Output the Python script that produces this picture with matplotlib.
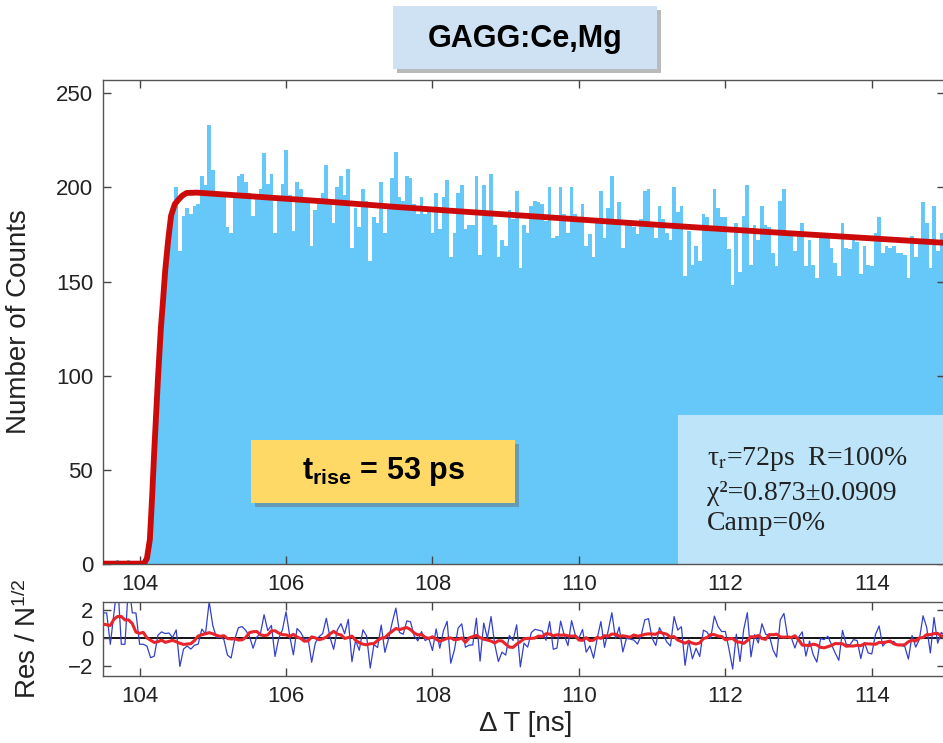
"""
Rise-time fit for GAGG:Ce,Mg.
Histogram of the time differences with the fitted curve on top and the
normalised residuals (Res / sqrt(N)) in a strip underneath.
Writes out.png
"""

import numpy as np
import matplotlib.pyplot as plt
import matplotlib.patheffects as pe
from matplotlib.patches import Rectangle, FancyBboxPatch

plt.rcParams["font.family"] = ["Liberation Sans", "DejaVu Sans"]
plt.rcParams["mathtext.fontset"] = "custom"
plt.rcParams["mathtext.rm"] = "Liberation Sans"
plt.rcParams["mathtext.bf"] = "Liberation Sans:bold"
plt.rcParams["mathtext.it"] = "Liberation Sans:italic"


# ──────────────────────────────────────────────
#  Data
# ──────────────────────────────────────────────
BIN_START = 103.475   # ns, left edge of the first bin
BIN_WIDTH = 0.05      # ns

# counts per bin: flat background, the rise, then the slow decay
background_counts = [1, 1, 0, 1, 2, 0, 0, 2, 1, 1, 0]
rise_counts = [0, 2, 14, 50, 100, 135, 160, 180, 188]
decay_counts = [
    200, 166, 185, 189, 186, 190, 191, 206, 201, 233, 209, 197, 197, 195, 179,
    176, 195, 206, 207, 203, 197, 185, 196, 199, 218, 202, 207, 176, 194, 202,
    220, 196, 177, 203, 199, 192, 193, 169, 188, 194, 197, 212, 193, 181, 200,
    206, 196, 210, 168,
    189, 179, 199, 193, 161, 184, 181, 203, 176, 189, 205, 219, 195, 193, 206,
    205, 191, 186, 195, 186, 188, 176, 197, 178, 195, 204, 163, 176, 197, 201,
    178, 180, 180, 206, 164, 201, 186, 207, 180, 163, 172, 169, 188, 183, 198,
    157, 180, 176, 190, 193, 192, 191, 182,
    200, 173, 174, 200, 186, 176, 200, 186, 183, 191, 169, 175, 163, 182, 198,
    173, 189, 206, 181, 192, 168, 181, 180, 179, 175, 183, 198, 199, 180, 173,
    190, 183, 176, 172, 200, 187, 190, 153, 177, 159, 169, 161, 186, 184, 178,
    199, 189, 184, 184, 167, 148, 181, 155, 185,
    201, 159, 180, 172, 190, 180, 179, 165, 158, 193, 199, 177, 176, 166, 176,
    181, 158, 172, 159, 152, 174, 173, 176, 168, 160, 153, 181, 168, 167, 172,
    171, 154, 169, 159, 158, 176, 184, 165, 169, 168, 169, 165, 165, 164, 152,
    174, 163, 170, 192, 181, 157, 190, 166, 176, 172, 171,
]
counts = background_counts + rise_counts + decay_counts

# fitted curve (time in ns, counts)
fit_t = [103.40, 104.06, 104.10, 104.14, 104.17, 104.20, 104.25, 104.29,
         104.32, 104.35, 104.39, 104.43, 104.48, 104.52, 104.58, 104.64,
         104.78, 105.50, 106.50, 107.50, 108.50, 109.50, 110.50, 111.50,
         112.50, 113.50, 114.50, 115.10]
fit_y = [0.2, 0.2, 3, 13, 35, 60, 98, 125,
         140, 156, 172, 185, 191, 193, 195.5, 197,
         197.2, 195.3, 192.6, 189.6, 186.9, 184.3, 181.6, 179.0,
         176.5, 174.1, 171.7, 170.3]

SMOOTH_BINS = 9   # running-mean window for the red residual trace

fit_lines = [r"τ$_{\rm r}$=72ps  R=100%", "χ²=0.873±0.0909", "Camp=0%"]

BAR_COLOR = "#66C7F9"
BOX_COLOR = "#BDE4F9"
FIT_RED = "#CC0A0A"


# ──────────────────────────────────────────────
#  Residuals
# ──────────────────────────────────────────────
edges = BIN_START + BIN_WIDTH * np.arange(len(counts) + 1)
centers = edges[:-1] + BIN_WIDTH / 2
fit_at_bins = np.interp(centers, fit_t, fit_y)
residuals = (np.array(counts) - fit_at_bins) / np.sqrt(fit_at_bins)
smooth = np.convolve(residuals, np.ones(SMOOTH_BINS) / SMOOTH_BINS, mode="same")


# ──────────────────────────────────────────────
#  Layout helpers (pixel boxes on a 943x743 canvas)
# ──────────────────────────────────────────────
W, H = 943, 743


def px_rect(left, top, right, bottom):
    return [left / W, 1 - bottom / H, (right - left) / W, (bottom - top) / H]


fig = plt.figure(figsize=(W / 100, H / 100), dpi=100)
ax = fig.add_axes(px_rect(103, 80, 945, 564))
axr = fig.add_axes(px_rect(103, 602, 945, 676))

# ──────────────────────────────────────────────
#  Top: histogram + fit
# ──────────────────────────────────────────────
ax.stairs(counts, edges, fill=True, color=BAR_COLOR, linewidth=0, zorder=1)
ax.plot(fit_t, fit_y, color=FIT_RED, linewidth=4.2, solid_capstyle="butt",
        zorder=3)
ax.add_patch(Rectangle((0.683, 0.0), 0.33, 0.308, transform=ax.transAxes,
                       facecolor=BOX_COLOR, edgecolor="none", zorder=2))
ax.set_ylim(0, 257)
ax.set_yticks([0, 50, 100, 150, 200, 250])
ax.set_ylabel("Number of Counts", fontsize=20, color="#222222")
ax.yaxis.set_label_coords(-0.084, 0.5)

# ──────────────────────────────────────────────
#  Bottom: residuals
# ──────────────────────────────────────────────
axr.axhline(0, color="black", linewidth=1.3, zorder=1)
axr.plot(centers, residuals, color="#3340CC", linewidth=0.9, zorder=2)
axr.plot(centers, smooth, color="#E8252B", linewidth=2.2, zorder=3)
axr.set_ylim(-2.71, 2.57)
axr.set_yticks([-2, 0, 2])
axr.set_yticklabels(["\u22122", "0", "2"])
axr.set_ylabel(r"Res / N$^{1/2}$", fontsize=20, color="#222222")
axr.yaxis.set_label_coords(-0.073, 0.5)
axr.set_xlabel("Δ T [ns]", fontsize=20, color="#222222")
axr.xaxis.set_label_coords(0.502, -0.47)

for a in (ax, axr):
    a.set_xlim(103.5, 115.0)
    a.set_xticks([104, 106, 108, 110, 112, 114])
    a.tick_params(direction="in", top=True, right=True, length=6, width=1,
                  color="#444444", labelcolor="#222222", labelsize=16, pad=7)
    for spine in a.spines.values():
        spine.set_color("#555555")
        spine.set_linewidth(1)

# ──────────────────────────────────────────────
#  Fit parameters inside the light box
# ──────────────────────────────────────────────
for line, base in zip(fit_lines, [465, 500, 530]):
    fig.text(707 / W, 1 - base / H, line, fontsize=20, va="baseline",
             family="Liberation Serif", math_fontfamily="stix",
             color="#222222", zorder=5)

# ──────────────────────────────────────────────
#  Title and rise-time callouts
# ──────────────────────────────────────────────
shadow = [pe.withSimplePatchShadow(offset=(3, -3), shadow_rgbFace="#666666",
                                   alpha=0.45)]

title_box = FancyBboxPatch((393 / W, 1 - 69 / H), 264 / W, 63 / H,
                           boxstyle="square,pad=0", transform=fig.transFigure,
                           facecolor="#CFE2F3", edgecolor="none",
                           path_effects=shadow)
fig.add_artist(title_box)
fig.text(525 / W, 1 - 39 / H, "GAGG:Ce,Mg", fontsize=22, fontweight="bold",
         ha="center", va="center")

rise_box = FancyBboxPatch((251 / W, 1 - 503 / H), 264 / W, 63 / H,
                          boxstyle="square,pad=0", transform=fig.transFigure,
                          facecolor="#FFD966", edgecolor="none",
                          path_effects=shadow)
fig.add_artist(rise_box)
fig.text(383 / W, 1 - 472 / H, r"t$_{\mathbf{rise}}$ = 53 ps", fontsize=22,
         fontweight="bold", ha="center", va="center")

fig.savefig("out.png", dpi=100)
print("Saved: out.png")
